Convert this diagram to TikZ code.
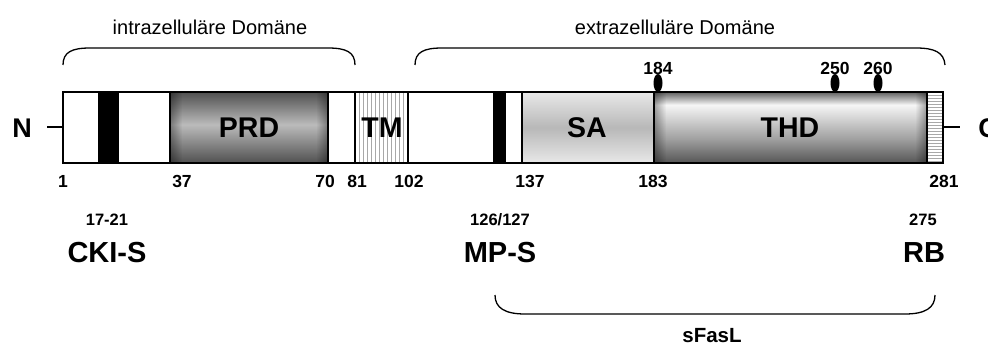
\documentclass[tikz,border=0pt]{standalone}
\usepackage{fontspec}
\setmainfont{Liberation Sans}
\usetikzlibrary{fadings}
\definecolor{prdA}{HTML}{505050}
\definecolor{prdB}{HTML}{BBBBBB}
\definecolor{saA}{HTML}{E8E8E8}
\definecolor{saB}{HTML}{B8B8B8}
\definecolor{thA}{HTML}{606060}
\definecolor{thB}{HTML}{F6F6F6}
\definecolor{thC}{HTML}{A0A0A0}
\definecolor{thD}{HTML}{555555}
\definecolor{stripe}{HTML}{A8A8A8}
\pgfdeclareverticalshading{prdsh}{100bp}{color(0bp)=(prdA); color(25bp)=(prdA); color(52bp)=(prdB); color(75bp)=(prdA); color(100bp)=(prdA)}
\pgfdeclareverticalshading{sash}{100bp}{color(0bp)=(saA); color(25bp)=(saA); color(50bp)=(saB); color(75bp)=(saA); color(100bp)=(saA)}
\pgfdeclareverticalshading{thsh}{100bp}{color(0bp)=(thD); color(25bp)=(thD); color(42bp)=(thC); color(66bp)=(thB); color(75bp)=(thA); color(100bp)=(thA)}
\tikzfading[name=fadeL, left color=transparent!0, right color=transparent!100]
\tikzfading[name=fadeR, left color=transparent!100, right color=transparent!0]
\tikzset{
  outl/.style={line width=1.5pt, draw=black},
  brace/.style={line width=1.3pt, draw=black},
  numlab/.style={font=\fontsize{17.5}{20}\selectfont\bfseries, inner sep=0pt},
  smalllab/.style={font=\fontsize{16.5}{19}\selectfont\bfseries, inner sep=0pt},
  biglab/.style={font=\fontsize{29}{32}\selectfont\bfseries, inner sep=0pt},
  domlab/.style={font=\fontsize{28.5}{32}\selectfont\bfseries, inner sep=0pt},
  termlab/.style={font=\fontsize{27}{30}\selectfont\bfseries, inner sep=0pt},
  toplab/.style={font=\fontsize{20}{23}\selectfont, inner sep=0pt},
  pin/.style={fill=black},
  edgefade/.style={fill=black, fill opacity=0.35},
}
\begin{document}
\begin{tikzpicture}[x=1pt, y=-1pt]
\useasboundingbox (0,0) rectangle (988,345);
% ---------- bar fills ----------
\fill[white] (63,92) rectangle (943,163);
\fill[black] (99,92) rectangle (118,163);
\shade[shading=prdsh] (170,92) rectangle (328,163);
\fill[edgefade, path fading=fadeL] (170,92) rectangle (182,163);
\fill[edgefade, path fading=fadeR] (316,92) rectangle (328,163);
\foreach \x in {359,363,...,405} \draw[stripe, line width=0.6pt] (\x,92) -- (\x,163);
\fill[black] (494,92) rectangle (505,163);
\shade[shading=sash] (522,92) rectangle (654,163);
\shade[shading=thsh] (654,92) rectangle (927,163);
\fill[edgefade, path fading=fadeL] (654,92) rectangle (666,163);
\fill[edgefade, path fading=fadeR] (915,92) rectangle (927,163);
\foreach \y in {95,98,...,161} \draw[stripe, line width=0.6pt] (927,\y) -- (943,\y);
% ---------- outlines ----------
\draw[outl] (63,92) rectangle (943,163);
\foreach \x in {99,118,170,328,355,408,494,505,522,654,927} \draw[outl] (\x,92) -- (\x,163);
% ---------- terminals ----------
\node[termlab] (nterm) at (22,128) {N};
\node[termlab] (cterm) at (988,128) {C};
\coordinate (barW) at (63,127);
\coordinate (barE) at (943,127);
\coordinate (nstub) at (47,127);
\coordinate (cstub) at (960,127);
\draw[line width=2.5pt] (nstub) -- (barW);
\draw[line width=2.5pt] (barE) -- (cstub);
% ---------- domain labels ----------
\node[domlab] (prd) at (249,128) {PRD};
\node[domlab] (tm) at (382,128) {TM};
\node[domlab] (sa) at (587,128) {SA};
\node[domlab] (thd) at (790,128) {THD};
% ---------- pins ----------
\fill[pin] (658,83) ellipse [x radius=4.5, y radius=9];
\fill[pin] (835,83) ellipse [x radius=4.5, y radius=9];
\fill[pin] (878,83) ellipse [x radius=4.5, y radius=9];
\node[numlab] (p184) at (658,68) {184};
\node[numlab] (p250) at (835,68) {250};
\node[numlab] (p260) at (878,68) {260};
% ---------- position numbers ----------
\node[numlab] (n1) at (63,181) {1};
\node[numlab] (n37) at (182,181) {37};
\node[numlab] (n70) at (325,181) {70};
\node[numlab] (n81) at (357,181) {81};
\node[numlab] (n102) at (409,181) {102};
\node[numlab] (n137) at (530,181) {137};
\node[numlab] (n183) at (653,181) {183};
\node[numlab] (n281) at (944,181) {281};
% ---------- sites ----------
\node[smalllab] (s1721) at (107,220) {17-21};
\node[biglab] (ckis) at (107,253) {CKI-S};
\node[smalllab] (s126) at (500,220) {126/127};
\node[biglab] (mps) at (500,253) {MP-S};
\node[smalllab] (s275) at (923,220) {275};
\node[biglab] (rb) at (924,253) {RB};
% ---------- top braces ----------
\draw[brace] (63,65) .. controls (63,52) and (72,48) .. (90,48) -- (328,48) .. controls (346,48) and (355,52) .. (355,65);
\node[toplab] (intra) at (210,27) {intrazelluläre Domäne};
\draw[brace] (415,65) .. controls (415,52) and (424,48) .. (442,48) -- (916,48) .. controls (934,48) and (944,52) .. (945,65);
\node[toplab] (extra) at (675,27) {extrazelluläre Domäne};
% ---------- bottom brace ----------
\draw[brace] (495,295) .. controls (495,308) and (505,314) .. (525,314) -- (905,314) .. controls (925,314) and (935,308) .. (935,295);
\node[font=\fontsize{20.5}{23}\selectfont\bfseries, inner sep=0pt] (sfasl) at (712,336) {sFasL};
\end{tikzpicture}
\end{document}
